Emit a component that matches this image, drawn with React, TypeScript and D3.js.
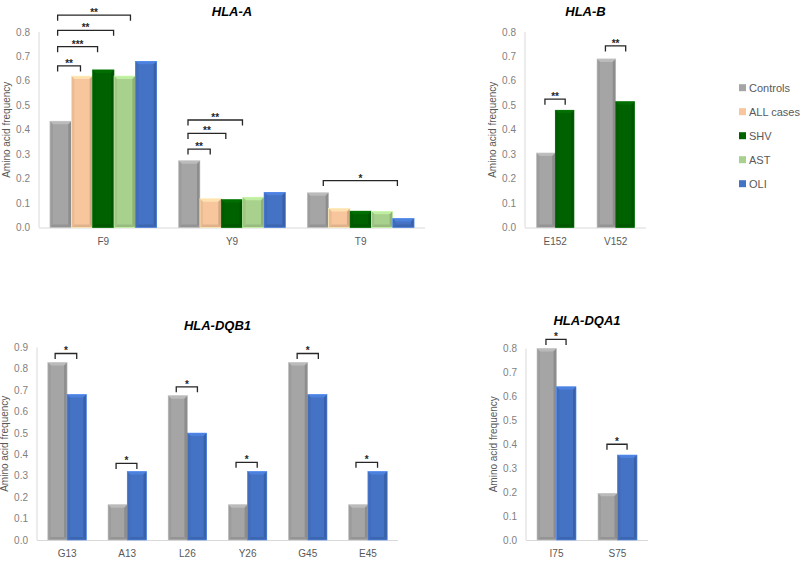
import React from 'react'
import * as d3 from 'd3'

// ---------------------------------------------------------------- //
// Amino acid frequencies by HLA locus (controls vs. patient groups)

const seriesNames = ['Controls', 'ALL cases', 'SHV', 'AST', 'OLI']
const seriesColors = ['#A5A5A5', '#F8C69C', '#006100', '#A9D18E', '#4472C4']

// HLA-A
const hlaACategories = ['F9', 'Y9', 'T9']
const hlaAControls = [0.435, 0.273, 0.142]
const hlaAAllCases = [0.62, 0.118, 0.078]
const hlaAShv = [0.645, 0.114, 0.067]
const hlaAAst = [0.62, 0.124, 0.066]
const hlaAOli = [0.68, 0.144, 0.037]

// HLA-B (controls vs SHV)
const hlaBCategories = ['E152', 'V152']
const hlaBControls = [0.305, 0.69]
const hlaBShv = [0.48, 0.515]

// HLA-DQB1 (controls vs OLI)
const dqb1Categories = ['G13', 'A13', 'L26', 'Y26', 'G45', 'E45']
const dqb1Controls = [0.83, 0.165, 0.675, 0.165, 0.83, 0.165]
const dqb1Oli = [0.68, 0.32, 0.5, 0.32, 0.68, 0.32]

// HLA-DQA1 (controls vs OLI)
const dqa1Categories = ['I75', 'S75']
const dqa1Controls = [0.8, 0.195]
const dqa1Oli = [0.64, 0.355]

// significance brackets: from/to in bar slots of the group, at = height (frequency)
const hlaABrackets = [
  { cat: 'F9', from: 0.36, to: 1.43, at: 0.661, label: '**' },
  { cat: 'F9', from: 0.36, to: 2.23, at: 0.74, label: '***' },
  { cat: 'F9', from: 0.36, to: 2.98, at: 0.807, label: '**' },
  { cat: 'F9', from: 0.36, to: 3.77, at: 0.869, label: '**' },
  { cat: 'Y9', from: 0.44, to: 1.48, at: 0.321, label: '**' },
  { cat: 'Y9', from: 0.44, to: 2.21, at: 0.385, label: '**' },
  { cat: 'Y9', from: 0.44, to: 2.99, at: 0.44, label: '**' },
  { cat: 'T9', from: 0.75, to: 4.22, at: 0.192, label: '*' },
]
const hlaBBrackets = [
  { cat: 'E152', from: 0.45, to: 1.53, at: 0.525, label: '**' },
  { cat: 'V152', from: 0.45, to: 1.53, at: 0.743, label: '**' },
]
const dqb1Brackets = [
  { cat: 'G13', from: 0.38, to: 1.5, at: 0.872, label: '*' },
  { cat: 'A13', from: 0.42, to: 1.5, at: 0.358, label: '*' },
  { cat: 'L26', from: 0.42, to: 1.52, at: 0.716, label: '*' },
  { cat: 'Y26', from: 0.4, to: 1.5, at: 0.363, label: '*' },
  { cat: 'G45', from: 0.45, to: 1.55, at: 0.872, label: '*' },
  { cat: 'E45', from: 0.38, to: 1.5, at: 0.363, label: '*' },
]
const dqa1Brackets = [
  { cat: 'I75', from: 0.46, to: 1.49, at: 0.838, label: '*' },
  { cat: 'S75', from: 0.46, to: 1.49, at: 0.4, label: '*' },
]

const yTicksTo08 = [0, 0.1, 0.2, 0.3, 0.4, 0.5, 0.6, 0.7, 0.8]
const yTicksTo09 = [0, 0.1, 0.2, 0.3, 0.4, 0.5, 0.6, 0.7, 0.8, 0.9]

interface Series { name: string; color: string; values: number[] }
interface Bracket { cat: string; from: number; to: number; at: number; label: string }
interface PanelProps {
  title: string
  categories: string[]
  series: Series[]
  brackets: Bracket[]
  ticks: number[]
  left: number
  right: number
  top: number
  bottom: number
  gap: number
  titleY: number
}

const FONT = "'Liberation Sans', Arial, sans-serif"

function BevelBar(props: { x: number; y: number; w: number; h: number; color: string }) {
  const { x, y, w, h, color } = props
  if (h <= 0) return null
  const c = d3.color(color)!
  const b = Math.min(3, h / 2, w / 4)
  const x2 = x + w, y2 = y + h
  return (
    <g>
      <rect x={x} y={y} width={w} height={h} fill={color} />
      {/* top */}
      <polygon points={`${x},${y} ${x2},${y} ${x2 - b},${y + b} ${x + b},${y + b}`} fill={c.brighter(0.35).formatHex()} />
      {/* left */}
      <polygon points={`${x},${y} ${x + b},${y + b} ${x + b},${y2 - b} ${x},${y2}`} fill={c.darker(0.15).formatHex()} />
      {/* right */}
      <polygon points={`${x2},${y} ${x2},${y2} ${x2 - b},${y2 - b} ${x2 - b},${y + b}`} fill={c.darker(0.45).formatHex()} />
      {/* bottom */}
      <polygon points={`${x},${y2} ${x + b},${y2 - b} ${x2 - b},${y2 - b} ${x2},${y2}`} fill={c.darker(0.3).formatHex()} />
      <rect x={x} y={y} width={w} height={h} fill="none" stroke={c.brighter(0.6).formatHex()} strokeWidth={0.6} />
    </g>
  )
}

function Panel(props: PanelProps) {
  const { title, categories, series, brackets, ticks, left, right, top, bottom, gap } = props
  const yMax = ticks[ticks.length - 1]

  const x = d3.scaleBand<string>()
    .domain(categories)
    .range([left, right])
    .paddingInner(gap)
    .paddingOuter(gap / 2)

  const xInner = d3.scaleBand<number>()
    .domain(series.map((_, i) => i))
    .range([0, x.bandwidth()])

  const y = d3.scaleLinear().domain([0, yMax]).range([bottom, top])
  const fmt = d3.format('.1f')
  const slot = xInner.bandwidth()

  return (
    <g>
      <text x={(left + right) / 2} y={props.titleY} textAnchor="middle" fontFamily={FONT}
        fontSize={13} fontWeight="bold" fontStyle="italic" fill="#000">{title}</text>

      {/* axes */}
      <line x1={left} x2={left} y1={y(yMax)} y2={bottom} stroke="#D9D9D9" />
      <line x1={left} x2={right} y1={bottom + 0.5} y2={bottom + 0.5} stroke="#D9D9D9" />
      {ticks.map(t => (
        <text key={t} x={left - 9} y={y(t) + 3.5} textAnchor="end" fontFamily={FONT}
          fontSize={10} fill="#7F7F7F">{fmt(t)}</text>
      ))}
      {categories.map(c => (
        <text key={c} x={x(c)! + x.bandwidth() / 2} y={bottom + 17} textAnchor="middle"
          fontFamily={FONT} fontSize={10} fill="#595959">{c}</text>
      ))}
      <text transform={`translate(${left - 29},${(top + bottom) / 2}) rotate(-90)`} textAnchor="middle"
        fontFamily={FONT} fontSize={10} fill="#595959">Amino acid frequency</text>

      {/* bars */}
      {categories.map((c, ci) => (
        <g key={c}>
          {series.map((s, si) => (
            <BevelBar key={s.name} x={x(c)! + xInner(si)!} y={y(s.values[ci])} w={slot}
              h={bottom - y(s.values[ci])} color={s.color} />
          ))}
        </g>
      ))}

      {/* significance brackets */}
      {brackets.map((b, i) => {
        const x0 = x(b.cat)! + b.from * slot
        const x1 = x(b.cat)! + b.to * slot
        const yy = y(b.at)
        return (
          <g key={i}>
            <path d={`M${x0},${yy + 5.5}V${yy}H${x1}V${yy + 5.5}`} fill="none" stroke="#262626" strokeWidth={1.3} />
            <text x={(x0 + x1) / 2} y={yy + 1} textAnchor="middle" fontFamily={FONT}
              fontSize={10} fontWeight="bold" fill="#262626">{b.label}</text>
          </g>
        )
      })}
    </g>
  )
}

export default function App() {
  const hlaASeries: Series[] = [hlaAControls, hlaAAllCases, hlaAShv, hlaAAst, hlaAOli]
    .map((v, i) => ({ name: seriesNames[i], color: seriesColors[i], values: v }))
  const hlaBSeries: Series[] = [
    { name: seriesNames[0], color: seriesColors[0], values: hlaBControls },
    { name: seriesNames[2], color: seriesColors[2], values: hlaBShv },
  ]
  const dqb1Series: Series[] = [
    { name: seriesNames[0], color: seriesColors[0], values: dqb1Controls },
    { name: seriesNames[4], color: seriesColors[4], values: dqb1Oli },
  ]
  const dqa1Series: Series[] = [
    { name: seriesNames[0], color: seriesColors[0], values: dqa1Controls },
    { name: seriesNames[4], color: seriesColors[4], values: dqa1Oli },
  ]

  return (
    <svg width={800} height={562} style={{ position: 'absolute', left: 0, top: 0, background: '#fff' }}>
      <rect width={800} height={562} fill="#fff" />
      <Panel title="HLA-A" categories={hlaACategories} series={hlaASeries} brackets={hlaABrackets}
        ticks={yTicksTo08} left={39} right={425} top={32} bottom={227.5} gap={0.17} titleY={15.5} />
      <Panel title="HLA-B" categories={hlaBCategories} series={hlaBSeries} brackets={hlaBBrackets}
        ticks={yTicksTo08} left={525} right={646} top={32} bottom={227.5} gap={0.38} titleY={15.5} />
      <Panel title="HLA-DQB1" categories={dqb1Categories} series={dqb1Series} brackets={dqb1Brackets}
        ticks={yTicksTo09} left={37} right={398} top={347.5} bottom={540} gap={0.36} titleY={329.5} />
      <Panel title="HLA-DQA1" categories={dqa1Categories} series={dqa1Series} brackets={dqa1Brackets}
        ticks={yTicksTo08} left={526} right={648} top={348.5} bottom={540} gap={0.36} titleY={325} />

      {/* legend */}
      <g>
        {seriesNames.map((n, i) => (
          <g key={n} transform={`translate(739,${87.7 + i * 24})`}>
            <rect x={0} y={-3.5} width={7} height={7} fill={seriesColors[i]} />
            <text x={10} y={4} fontFamily={FONT} fontSize={11} fill="#595959">{n}</text>
          </g>
        ))}
      </g>
    </svg>
  )
}
